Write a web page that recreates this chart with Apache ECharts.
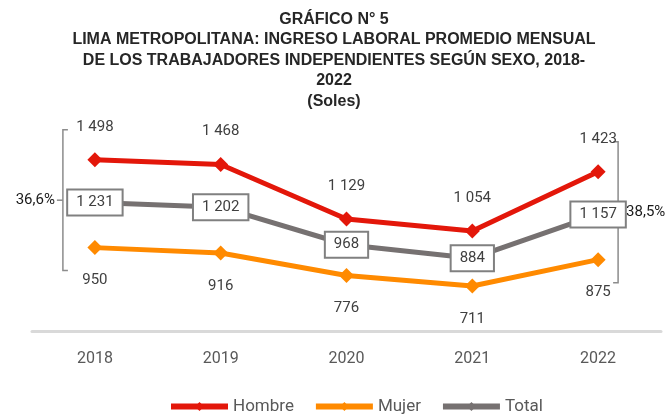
<!DOCTYPE html>
<html>
<head>
<meta charset="utf-8">
<script src="https://cdn.jsdelivr.net/npm/echarts@6/dist/echarts.min.js"></script>
<style>
  html, body { margin: 0; padding: 0; background: #fff; }
  #chart { width: 668px; height: 414px; }
</style>
</head>
<body>
<div id="chart"></div>
<script>
var years = ['2018', '2019', '2020', '2021', '2022']
var hombre = [1498, 1468, 1129, 1054, 1423]
var mujer = [950, 916, 776, 711, 875]
var total = [1231, 1202, 968, 884, 1157]

var titleText = 'GRÁFICO N° 5\nLIMA METROPOLITANA: INGRESO LABORAL PROMEDIO MENSUAL\nDE LOS TRABAJADORES INDEPENDIENTES SEGÚN SEXO, 2018-\n2022\n(Soles)'

var labelFont = 'Roboto, "Liberation Sans", sans-serif'

// 1498 -> "1 498"
function fmt(v) {
  return String(v).replace(/\B(?=(\d{3})+(?!\d))/g, ' ')
}

var myChart = echarts.init(document.getElementById('chart'))

var option = {
  animation: false,
  title: {
    text: titleText,
    left: 'center',
    top: 4,
    textStyle: {
      fontFamily: '"Liberation Sans Narrow", "Liberation Sans", sans-serif',
      fontWeight: 'bold',
      fontSize: 16,
      lineHeight: 20.5,
      color: '#262626'
    }
  },
  grid: {
    top: 141,
    bottom: 83,
    left: 32,
    right: 7
  },
  legend: {
    top: 393,
    left: 163,
    itemWidth: 57,
    itemHeight: 11,
    itemGap: 19,
    lineStyle: { width: 6 },
    textStyle: {
      fontFamily: labelFont,
      fontSize: 17,
      color: '#595959'
    },
    data: ['Hombre', 'Mujer', 'Total']
  },
  xAxis: {
    type: 'category',
    data: years,
    axisLine: {
      lineStyle: { color: '#d9d9d9', width: 3 }
    },
    axisTick: { show: false },
    axisLabel: {
      margin: 20,
      fontFamily: labelFont,
      fontSize: 16,
      color: '#595959'
    }
  },
  yAxis: {
    type: 'value',
    min: 430,
    max: 1615,
    show: false,
    splitLine: { show: false }
  },
  series: [
    {
      name: 'Hombre',
      type: 'line',
      data: hombre,
      symbol: 'diamond',
      symbolSize: 15,
      itemStyle: { color: '#e3170a' },
      lineStyle: { color: '#e3170a', width: 5 },
      label: {
        show: true,
        position: 'top',
        distance: 18,
        formatter: function (p) { return fmt(p.value) },
        fontFamily: labelFont,
        fontSize: 15,
        color: '#404040'
      }
    },
    {
      name: 'Mujer',
      type: 'line',
      data: mujer,
      symbol: 'diamond',
      symbolSize: 15,
      itemStyle: { color: '#ff8a00' },
      lineStyle: { color: '#ff8a00', width: 5 },
      label: {
        show: true,
        position: 'bottom',
        distance: 18,
        formatter: function (p) { return fmt(p.value) },
        fontFamily: labelFont,
        fontSize: 15,
        color: '#404040'
      }
    },
    {
      name: 'Total',
      type: 'line',
      data: total,
      symbol: 'diamond',
      symbolSize: 15,
      itemStyle: { color: '#767171' },
      lineStyle: { color: '#767171', width: 5 },
      label: {
        show: true,
        position: 'inside',
        formatter: function (p) { return fmt(p.value) },
        fontFamily: labelFont,
        fontSize: 15,
        color: '#404040',
        backgroundColor: '#fff',
        borderColor: '#808080',
        borderWidth: 2,
        padding: [5, 8, 4, 8]
      }
    }
  ]
}

myChart.setOption(option)

// brackets showing the gap between Hombre and Mujer in first and last year
function bracket(idx, side) {
  var pH = myChart.convertToPixel({ seriesIndex: 0 }, [idx, hombre[idx]])
  var pM = myChart.convertToPixel({ seriesIndex: 1 }, [idx, mujer[idx]])
  var gap = ((hombre[idx] - mujer[idx]) / hombre[idx] * 100).toFixed(1).replace('.', ',') + '%'
  var x = side < 0 ? pH[0] - 32 : pH[0] + 20
  var top = pH[1] - 30
  var bot = pM[1] + 23
  var mid = (top + bot) / 2
  var t = -side * 5
  return [
    {
      type: 'polyline',
      shape: { points: [[x + t, top], [x, top], [x, bot], [x + t, bot]] },
      style: { stroke: '#8c8c8c', lineWidth: 1.5, fill: null }
    },
    {
      type: 'line',
      shape: { x1: x, y1: mid, x2: x + side * 6, y2: mid },
      style: { stroke: '#8c8c8c', lineWidth: 1.5 }
    },
    {
      type: 'text',
      x: x + side * 8,
      y: mid,
      style: {
        text: gap,
        fontFamily: labelFont,
        fontSize: 15,
        fill: '#1a1a1a',
        align: side < 0 ? 'right' : 'left',
        verticalAlign: 'middle'
      }
    }
  ]
}

myChart.setOption({
  graphic: bracket(0, -1).concat(bracket(years.length - 1, 1))
})
</script>
</body>
</html>
